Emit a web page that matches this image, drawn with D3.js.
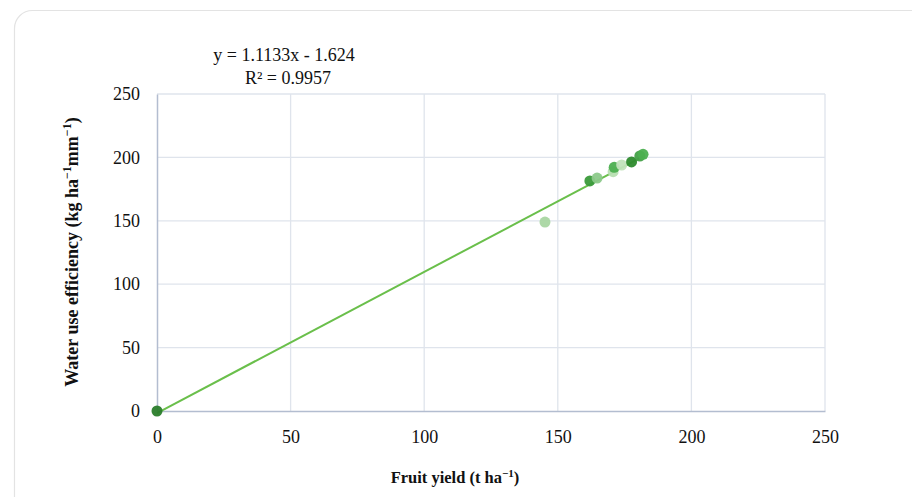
<!DOCTYPE html>
<html>
<head>
<meta charset="utf-8">
<script src="https://cdn.jsdelivr.net/npm/d3@7"></script>
<style>
  body { margin: 0; background: #fff; }
  svg { display: block; }
  text { font-family: "Liberation Serif", "DejaVu Serif", serif; fill: #111; }
</style>
</head>
<body>
<svg id="chart" width="912" height="497"></svg>
<script>
// Data
const fruitYield = [0, 145.2, 162.0, 164.7, 170.7, 171.1, 173.9, 177.6, 180.7, 181.9];
const wue        = [0, 149.0, 181.4, 183.7, 188.7, 192.2, 194.0, 196.4, 201.1, 202.4];
const pointColors = ["#2b7d2b", "#a9d6a2", "#3a9a3a", "#8cc98a", "#b8dfb2", "#4caf50", "#c2e3bc", "#2e8b2e", "#43a047", "#4caf50"];
const xTicks = [0, 50, 100, 150, 200, 250];
const yTicks = [0, 50, 100, 150, 200, 250];
const slope = 1.1133, intercept = -1.624;
const eqText = "y = 1.1133x - 1.624";
const r2Text = "R² = 0.9957";

const svg = d3.select("#chart");

// card border
svg.append("rect")
  .attr("x", 14.5).attr("y", 10.5)
  .attr("width", 920).attr("height", 510)
  .attr("rx", 18).attr("ry", 18)
  .attr("fill", "#fff").attr("stroke", "#e3e3e3").attr("stroke-width", 1.2);

const x = d3.scaleLinear().domain([0, 250]).range([157, 825]);
const y = d3.scaleLinear().domain([0, 250]).range([411, 94]);

// gridlines
svg.append("g").selectAll("line").data(xTicks.slice(1)).join("line")
  .attr("x1", d => x(d)).attr("x2", d => x(d))
  .attr("y1", y(0)).attr("y2", y(250))
  .attr("stroke", "#dfe4ec").attr("stroke-width", 1.3);
svg.append("g").selectAll("line").data(yTicks.slice(1)).join("line")
  .attr("x1", x(0)).attr("x2", x(250))
  .attr("y1", d => y(d)).attr("y2", d => y(d))
  .attr("stroke", "#dfe4ec").attr("stroke-width", 1.3);

// axes
const xAxis = svg.append("g").attr("transform", `translate(0,${y(0)})`)
  .call(d3.axisBottom(x).tickValues(xTicks).tickSize(0).tickPadding(19));
xAxis.select(".domain").attr("stroke", "#b3bdd0").attr("stroke-width", 1.5);
xAxis.selectAll("text").style("font-size", "18px").style("font-family", "Liberation Serif, serif").attr("fill", "#111");

const yAxis = svg.append("g").attr("transform", `translate(${x(0)},0)`)
  .call(d3.axisLeft(y).tickValues(yTicks).tickSize(0).tickPadding(17));
yAxis.select(".domain").attr("stroke", "#b3bdd0").attr("stroke-width", 1.5);
yAxis.selectAll("text").style("font-size", "18px").style("font-family", "Liberation Serif, serif").attr("fill", "#111");

// trendline
const xMax = d3.max(fruitYield);
svg.append("line")
  .attr("x1", x(0)).attr("y1", y(slope * 0 + intercept))
  .attr("x2", x(xMax)).attr("y2", y(slope * xMax + intercept))
  .attr("stroke", "#6abf4b").attr("stroke-width", 2);

// points
svg.append("g").selectAll("circle").data(fruitYield).join("circle")
  .attr("cx", d => x(d))
  .attr("cy", (d, i) => y(wue[i]))
  .attr("r", 5.5)
  .attr("fill", (d, i) => pointColors[i])
  .attr("opacity", 0.95);

// equation
svg.append("text").attr("x", 284).attr("y", 61).attr("text-anchor", "middle")
  .style("font-size", "18px").text(eqText);
svg.append("text").attr("x", 288).attr("y", 84).attr("text-anchor", "middle")
  .style("font-size", "18px").text(r2Text);

// axis titles
const xt = svg.append("text").attr("x", 455).attr("y", 483).attr("text-anchor", "middle")
  .style("font-size", "16.5px").style("font-weight", "bold");
xt.append("tspan").text("Fruit yield (t ha");
xt.append("tspan").attr("dy", -6).style("font-size", "11px").text("−1");
xt.append("tspan").attr("dy", 6).text(")");

const yt = svg.append("text")
  .attr("transform", `translate(78,252) rotate(-90)`)
  .attr("text-anchor", "middle")
  .style("font-size", "18px").style("font-weight", "bold");
yt.append("tspan").text("Water use efficiency (kg ha");
yt.append("tspan").attr("dy", -7).style("font-size", "12px").text("−1");
yt.append("tspan").attr("dy", 7).text("mm");
yt.append("tspan").attr("dy", -7).style("font-size", "12px").text("−1");
yt.append("tspan").attr("dy", 7).text(")");
</script>
</body>
</html>
